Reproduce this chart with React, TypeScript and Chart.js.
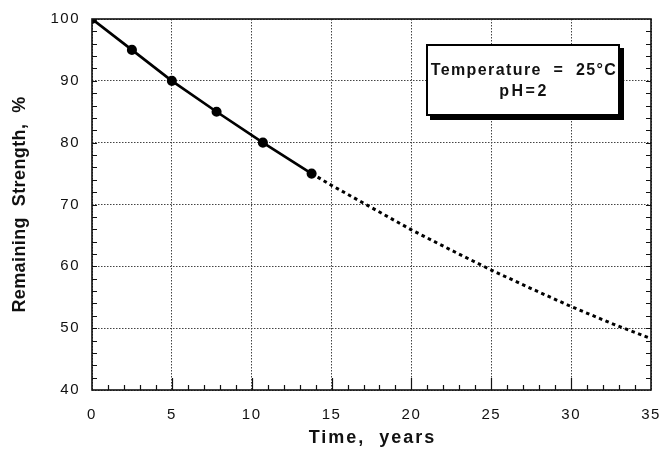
import { useEffect, useRef } from 'react';
import { Chart, registerables } from 'chart.js';

Chart.register(...registerables);

// Measured retained strength (solid line with markers)
const measuredYears = [0, 2.5, 5, 7.8, 10.7, 13.75];
const measuredStrength = [100, 95, 90, 85, 80, 75];

// Projected retained strength (dotted extrapolation)
const projectedYears = [13.75, 15, 17.5, 20, 22.5, 25, 27.5, 30, 32.5, 35];
const projectedStrength = [75, 73.1, 69.5, 65.9, 62.6, 59.4, 56.4, 53.5, 50.8, 48.3];

const xRange = [0, 35];
const yRange = [40, 100];
const xMajorStep = 5;
const yMajorStep = 10;

const xTitle = 'Time,  years';
const yTitle = 'Remaining  Strength,  %';
const noteLines = ['Temperature  =  25°C', 'pH=2'];

const FONT = '"Liberation Sans", Arial, Helvetica, sans-serif';
const INK = '#111';

const framePlugin = {
  id: 'frameAndNotes',
  beforeDraw(chart: any) {
    // slightly spaced digits for the tick labels
    (chart.ctx as any).letterSpacing = '1.5px';
  },
  afterDraw(chart: any) {
    const { ctx, chartArea, scales } = chart;
    const { left, right, top, bottom } = chartArea;
    const xs = scales.x;
    const ys = scales.y;
    ctx.save();

    // minor tick marks, pointing into the plot
    ctx.strokeStyle = INK;
    ctx.lineWidth = 1.2;
    ctx.beginPath();
    for (let v = xRange[0] + 1; v < xRange[1]; v += 1) {
      const px = Math.round(xs.getPixelForValue(v)) + 0.5;
      const len = v % xMajorStep === 0 ? 12 : 5;
      ctx.moveTo(px, bottom);
      ctx.lineTo(px, bottom - len);
    }
    for (let v = yRange[0] + 2; v < yRange[1]; v += 2) {
      const py = Math.round(ys.getPixelForValue(v)) + 0.5;
      ctx.moveTo(left, py);
      ctx.lineTo(left + 5, py);
      ctx.moveTo(right, py);
      ctx.lineTo(right - 5, py);
    }
    ctx.stroke();

    // plot frame
    ctx.lineWidth = 1.6;
    ctx.strokeRect(left, top, right - left, bottom - top);

    // axis titles
    ctx.fillStyle = INK;
    ctx.font = `bold 18px ${FONT}`;
    ctx.textAlign = 'center';
    ctx.textBaseline = 'alphabetic';
    (ctx as any).letterSpacing = '2px';
    ctx.fillText(xTitle, (left + right) / 2 + 1, 443);
    ctx.save();
    ctx.translate(24.5, (top + bottom) / 2);
    ctx.rotate(-Math.PI / 2);
    (ctx as any).letterSpacing = '0.4px';
    ctx.fillText(yTitle, 0, 0);
    ctx.restore();

    // condition note box with drop shadow
    const bx = 426, by = 44, bw = 194, bh = 72;
    ctx.fillStyle = '#000';
    ctx.fillRect(bx + 4, by + 4, bw, bh);
    ctx.fillStyle = '#fff';
    ctx.fillRect(bx, by, bw, bh);
    ctx.lineWidth = 2;
    ctx.strokeStyle = '#000';
    ctx.strokeRect(bx + 1, by + 1, bw - 2, bh - 2);
    ctx.fillStyle = INK;
    ctx.font = `bold 16px ${FONT}`;
    (ctx as any).letterSpacing = '1.4px';
    ctx.fillText(noteLines[0], bx + bw / 2 + 1, 75);
    (ctx as any).letterSpacing = '2.5px';
    ctx.fillText(noteLines[1], bx + bw / 2 + 1, 95.5);
    ctx.restore();
    (ctx as any).letterSpacing = '0px';
  },
};

export default function App() {
  const canvasRef = useRef<HTMLCanvasElement | null>(null);

  useEffect(() => {
    const canvas = canvasRef.current;
    if (!canvas) return;
    const chart = new Chart(canvas, {
      type: 'scatter',
      data: {
        datasets: [
          {
            label: 'Projected',
            data: projectedYears.map((x, i) => ({ x, y: projectedStrength[i] })),
            showLine: true,
            borderColor: '#000',
            borderWidth: 3,
            borderDash: [3.5, 3.5],
            pointRadius: 0,
            tension: 0,
          },
          {
            label: 'Measured',
            data: measuredYears.map((x, i) => ({ x, y: measuredStrength[i] })),
            showLine: true,
            borderColor: '#000',
            borderWidth: 2.7,
            pointRadius: 3.7,
            pointBackgroundColor: '#000',
            pointBorderColor: '#000',
            tension: 0,
          },
        ],
      },
      options: {
        animation: false,
        responsive: false,
        events: [],
        layout: { padding: { top: 19, right: 10, left: 0, bottom: 0 } },
        plugins: {
          legend: { display: false },
          tooltip: { enabled: false },
        },
        scales: {
          x: {
            type: 'linear',
            min: xRange[0],
            max: xRange[1],
            afterFit: (scale: any) => {
              scale.height = 67;
              scale.paddingLeft = 0;
              scale.paddingRight = 0;
            },
            ticks: {
              stepSize: xMajorStep,
              padding: 16,
              color: INK,
              font: { family: FONT, size: 15 },
              maxRotation: 0,
            },
            grid: { color: '#444', lineWidth: 1, drawTicks: false },
            border: { display: false, dash: [1.5, 1.5] },
          },
          y: {
            type: 'linear',
            min: yRange[0],
            max: yRange[1],
            afterFit: (scale: any) => {
              scale.width = 92;
              scale.paddingTop = 0;
              scale.paddingBottom = 0;
            },
            ticks: {
              stepSize: yMajorStep,
              padding: 12,
              color: INK,
              font: { family: FONT, size: 15 },
            },
            grid: { color: '#444', lineWidth: 1, drawTicks: false },
            border: { display: false, dash: [1.5, 1.5] },
          },
        },
      },
      plugins: [framePlugin],
    });
    return () => chart.destroy();
  }, []);

  return (
    <div style={{ position: 'absolute', left: 0, top: 0, width: 661, height: 457, background: '#fff' }}>
      <canvas ref={canvasRef} width={661} height={457} />
    </div>
  );
}
